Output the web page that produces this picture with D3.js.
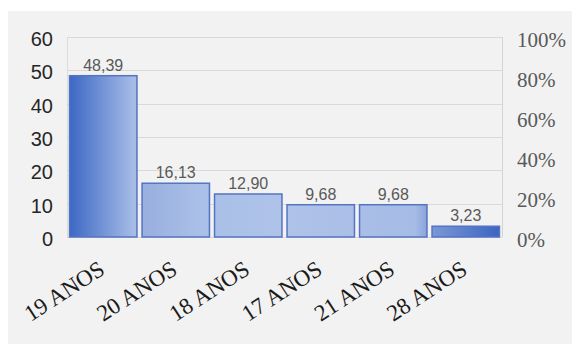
<!DOCTYPE html>
<html>
<head>
<meta charset="utf-8">
<script src="https://cdn.jsdelivr.net/npm/d3@7"></script>
<style>
  html, body { margin: 0; padding: 0; background: #ffffff; }
  svg { display: block; }
</style>
</head>
<body>
<svg id="chart" width="572" height="344"></svg>
<script>
// Distribution of ages (percent of respondents)
const categories = ["19 ANOS", "20 ANOS", "18 ANOS", "17 ANOS", "21 ANOS", "28 ANOS"];
const values = [48.39, 16.13, 12.90, 9.68, 9.68, 3.23];
const leftTicks = [0, 10, 20, 30, 40, 50, 60];
const rightTicks = [0, 0.2, 0.4, 0.6, 0.8, 1.0];

const W = 572, H = 344;
const plot = { left: 67, right: 502, top: 37, bottom: 237 };

const svg = d3.select("#chart");

// chart area background
svg.append("rect")
  .attr("x", 8).attr("y", 11)
  .attr("width", W - 8).attr("height", H - 11)
  .attr("fill", "#f2f2f2");

const x = d3.scaleBand()
  .domain(categories)
  .range([plot.left, plot.right])
  .paddingInner(0.07)
  .paddingOuter(0.035);

const y = d3.scaleLinear().domain([0, 60]).range([plot.bottom, plot.top]);
const yPct = d3.scaleLinear().domain([0, 1]).range([plot.bottom, plot.top]);

// bar fill: dark at both ends of the plot, light in the middle
const defs = svg.append("defs");
const grad = defs.append("linearGradient")
  .attr("id", "barFill")
  .attr("gradientUnits", "userSpaceOnUse")
  .attr("x1", plot.left).attr("y1", 0)
  .attr("x2", plot.right).attr("y2", 0);
[
  [0, "#3864c2"], [0.155, "#a7bde7"], [0.17, "#97aedf"], [0.3, "#a9bfe7"],
  [0.5, "#afc3e9"], [0.8, "#a6bbe5"], [0.845, "#7896d5"], [1, "#3a63c0"]
].forEach(([o, c]) => grad.append("stop").attr("offset", o).attr("stop-color", c));

// gridlines
svg.append("g")
  .selectAll("line")
  .data(leftTicks)
  .join("line")
  .attr("x1", plot.left).attr("x2", plot.right)
  .attr("y1", d => Math.round(y(d)) + 0.5).attr("y2", d => Math.round(y(d)) + 0.5)
  .attr("stroke", "#d9d9d9").attr("stroke-width", 1.2);

// plot frame sides
svg.append("line")
  .attr("x1", plot.left + 0.5).attr("x2", plot.left + 0.5)
  .attr("y1", plot.top).attr("y2", plot.bottom)
  .attr("stroke", "#dcdcdc");
svg.append("line")
  .attr("x1", plot.right + 0.5).attr("x2", plot.right + 0.5)
  .attr("y1", plot.top).attr("y2", plot.bottom)
  .attr("stroke", "#d4d4d4");

// bars
svg.append("g")
  .selectAll("rect")
  .data(values)
  .join("rect")
  .attr("x", (d, i) => x(categories[i]))
  .attr("y", d => y(d))
  .attr("width", x.bandwidth())
  .attr("height", d => y(0) - y(d))
  .attr("fill", "url(#barFill)")
  .attr("stroke", "#5574c2")
  .attr("stroke-width", 1.5);

// value labels
svg.append("g")
  .selectAll("text")
  .data(values)
  .join("text")
  .attr("x", (d, i) => x(categories[i]) + x.bandwidth() / 2)
  .attr("y", d => y(d) - 5)
  .attr("text-anchor", "middle")
  .attr("font-family", "'Liberation Sans', Arial, sans-serif")
  .attr("font-size", 16)
  .attr("fill", "#595959")
  .text(d => d.toFixed(2).replace(".", ","));

// left axis
const leftAxis = d3.axisLeft(y).tickValues(leftTicks).tickSize(0).tickPadding(0);
const gl = svg.append("g")
  .attr("transform", `translate(${plot.left - 14},0)`)
  .call(leftAxis);
gl.select(".domain").remove();
gl.selectAll("text")
  .attr("font-family", "'Liberation Sans', Arial, sans-serif")
  .attr("font-size", 20)
  .attr("fill", "#262626")
  .attr("dy", "0.42em");

// right axis (percent)
const rightAxis = d3.axisRight(yPct).tickValues(rightTicks).tickSize(0).tickPadding(0)
  .tickFormat(d3.format(".0%"));
const gr = svg.append("g")
  .attr("transform", `translate(${plot.right + 15},0)`)
  .call(rightAxis);
gr.select(".domain").remove();
gr.selectAll("text")
  .attr("font-family", "'Liberation Serif', 'Times New Roman', serif")
  .attr("font-size", 21)
  .attr("fill", "#595959")
  .attr("dy", "0.45em");

// category labels, rotated
svg.append("g")
  .selectAll("text")
  .data(categories)
  .join("text")
  .attr("transform", d => `translate(${x(d) + x.bandwidth() / 2 + 3},${plot.bottom + 36}) rotate(-33)`)
  .attr("text-anchor", "end")
  .attr("font-family", "'Liberation Serif', 'Times New Roman', serif")
  .attr("font-size", 23)
  .attr("fill", "#1a1a1a")
  .text(d => d);
</script>
</body>
</html>
